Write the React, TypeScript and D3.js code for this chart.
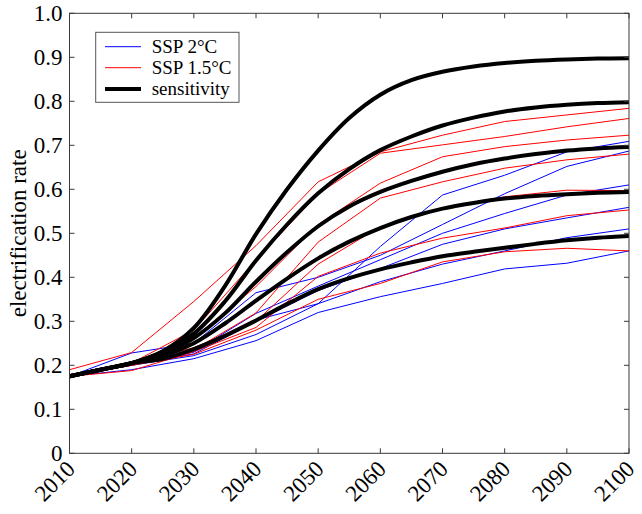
import React from "react";
import * as d3 from "d3";

const years5 = d3.range(2010, 2101, 5);
const decades = d3.range(2010, 2101, 10);

// sensitivity curves (5-year samples)
const sens90 = [0.175, 0.19, 0.205, 0.232, 0.285, 0.38, 0.498, 0.6, 0.688, 0.762, 0.815, 0.848, 0.867, 0.879, 0.887, 0.892, 0.895, 0.897, 0.898];
const sens80 = [0.175, 0.19, 0.205, 0.23, 0.272, 0.345, 0.438, 0.52, 0.591, 0.646, 0.689, 0.72, 0.745, 0.763, 0.777, 0.786, 0.792, 0.796, 0.798];
const sens70 = [0.175, 0.19, 0.205, 0.226, 0.262, 0.318, 0.39, 0.457, 0.516, 0.561, 0.594, 0.619, 0.64, 0.657, 0.67, 0.68, 0.688, 0.693, 0.696];
const sens60 = [0.175, 0.19, 0.205, 0.221, 0.25, 0.295, 0.347, 0.397, 0.443, 0.481, 0.512, 0.537, 0.556, 0.569, 0.579, 0.585, 0.589, 0.592, 0.594];
const sens50 = [0.175, 0.19, 0.205, 0.215, 0.237, 0.267, 0.302, 0.339, 0.373, 0.398, 0.418, 0.434, 0.448, 0.458, 0.467, 0.476, 0.484, 0.49, 0.494];
const sensitivity = [sens90, sens80, sens70, sens60, sens50];

// SSP 1.5°C scenarios (decadal)
const red1 = [0.19, 0.229, 0.345, 0.472, 0.617, 0.685, 0.723, 0.754, 0.769, 0.784];
const red2 = [0.175, 0.205, 0.28, 0.439, 0.59, 0.682, 0.701, 0.72, 0.742, 0.761];
const red3 = [0.175, 0.205, 0.262, 0.379, 0.52, 0.614, 0.674, 0.697, 0.712, 0.723];
const red4 = [0.175, 0.2, 0.235, 0.319, 0.48, 0.58, 0.617, 0.648, 0.667, 0.68];
const red5 = [0.175, 0.205, 0.24, 0.3, 0.43, 0.515, 0.555, 0.583, 0.598, 0.597];
const red6 = [0.175, 0.188, 0.231, 0.286, 0.402, 0.455, 0.489, 0.512, 0.54, 0.553];
const red7 = [0.175, 0.2, 0.225, 0.28, 0.35, 0.386, 0.435, 0.458, 0.466, 0.46];
const ssp15 = [red1, red2, red3, red4, red5, red6, red7];

// SSP 2°C scenarios (decadal)
const blue1 = [0.175, 0.2, 0.23, 0.303, 0.34, 0.47, 0.587, 0.632, 0.685, 0.709];
const blue2 = [0.175, 0.228, 0.25, 0.365, 0.4, 0.45, 0.52, 0.59, 0.652, 0.687];
const blue3 = [0.175, 0.205, 0.231, 0.318, 0.38, 0.44, 0.5, 0.545, 0.587, 0.61];
const blue4 = [0.175, 0.203, 0.226, 0.3, 0.37, 0.42, 0.475, 0.51, 0.535, 0.559];
const blue5 = [0.175, 0.2, 0.222, 0.27, 0.34, 0.39, 0.43, 0.46, 0.49, 0.51];
const blue6 = [0.175, 0.19, 0.215, 0.256, 0.32, 0.356, 0.386, 0.419, 0.432, 0.46];
const ssp2 = [blue1, blue2, blue3, blue4, blue5, blue6];

const yTicks = d3.range(0, 1.0001, 0.1);
const legendLabels = ["SSP 2°C", "SSP 1.5°C", "sensitivity"];

const W = 642, H = 514;
const left = 69.5, right = 629, top = 13.3, bottom = 453.3;
const FONT = "Liberation Serif";

export default function App() {
  const x = d3.scaleLinear().domain([2010, 2100]).range([left, right]);
  const y = d3.scaleLinear().domain([0, 1]).range([bottom, top]);
  const lineDec = d3.line<number>().x((_, i) => x(decades[i])).y((d) => y(d));
  const line5 = d3
    .line<number>()
    .x((_, i) => x(years5[i]))
    .y((d) => y(d))
    .curve(d3.curveCatmullRom.alpha(0.5));
  const axisColor = "#3a3a3a";
  const legendStyles = [
    { color: "#0000ff", w: 1 },
    { color: "#ff0000", w: 1 },
    { color: "#000000", w: 4 },
  ];
  return (
    <svg width={W} height={H} style={{ position: "absolute", left: 0, top: 0, background: "#fff" }}>
      <rect x={0} y={0} width={W} height={H} fill="#fff" />
      <defs>
        <clipPath id="plotclip">
          <rect x={left} y={top} width={right - left} height={bottom - top} />
        </clipPath>
      </defs>
      <g clipPath="url(#plotclip)" fill="none" strokeLinejoin="round">
        {ssp2.map((s, i) => (
          <path key={"b" + i} d={lineDec(s) || ""} stroke="#0000ff" strokeWidth={1} />
        ))}
        {ssp15.map((s, i) => (
          <path key={"r" + i} d={lineDec(s) || ""} stroke="#ff0000" strokeWidth={1} />
        ))}
        {sensitivity.map((s, i) => (
          <path key={"k" + i} d={line5(s) || ""} stroke="#000" strokeWidth={4} />
        ))}
      </g>
      <rect x={left} y={top} width={right - left} height={bottom - top} fill="none" stroke={axisColor} strokeWidth={1} />
      {decades.map((d) => (
        <g key={"xt" + d}>
          <line x1={x(d)} x2={x(d)} y1={bottom} y2={bottom - 5} stroke={axisColor} />
          <line x1={x(d)} x2={x(d)} y1={top} y2={top + 5} stroke={axisColor} />
          <text
            transform={`translate(${x(d) + 7},${bottom + 17}) rotate(-45)`}
            textAnchor="end"
            fontFamily={FONT}
            fontSize={23}
            fill="#000"
          >
            {d}
          </text>
        </g>
      ))}
      {yTicks.map((t) => (
        <g key={"yt" + t}>
          <line x1={left} x2={left + 5} y1={y(t)} y2={y(t)} stroke={axisColor} />
          <line x1={right} x2={right - 5} y1={y(t)} y2={y(t)} stroke={axisColor} />
          <text x={left - 7} y={y(t)} dy="0.34em" textAnchor="end" fontFamily={FONT} fontSize={23} fill="#000">
            {t < 1e-9 ? "0" : t.toFixed(1)}
          </text>
        </g>
      ))}
      <text
        transform={`translate(26,${(top + bottom) / 2}) rotate(-90)`}
        textAnchor="middle"
        fontFamily={FONT}
        fontSize={23}
        fill="#000"
      >
        electrification rate
      </text>
      <g>
        <rect x={95.7} y={32.3} width={143.3} height={70} fill="#fff" stroke="#555" strokeWidth={1} />
        {legendLabels.map((lab, i) => {
          const ly = [46.7, 67.7, 89][i];
          return (
            <g key={lab}>
              <line x1={105} x2={141} y1={ly} y2={ly} stroke={legendStyles[i].color} strokeWidth={legendStyles[i].w} />
              <text x={151.7} y={ly} dy="0.33em" fontFamily={FONT} fontSize={19} fill="#000">
                {lab}
              </text>
            </g>
          );
        })}
      </g>
    </svg>
  );
}
